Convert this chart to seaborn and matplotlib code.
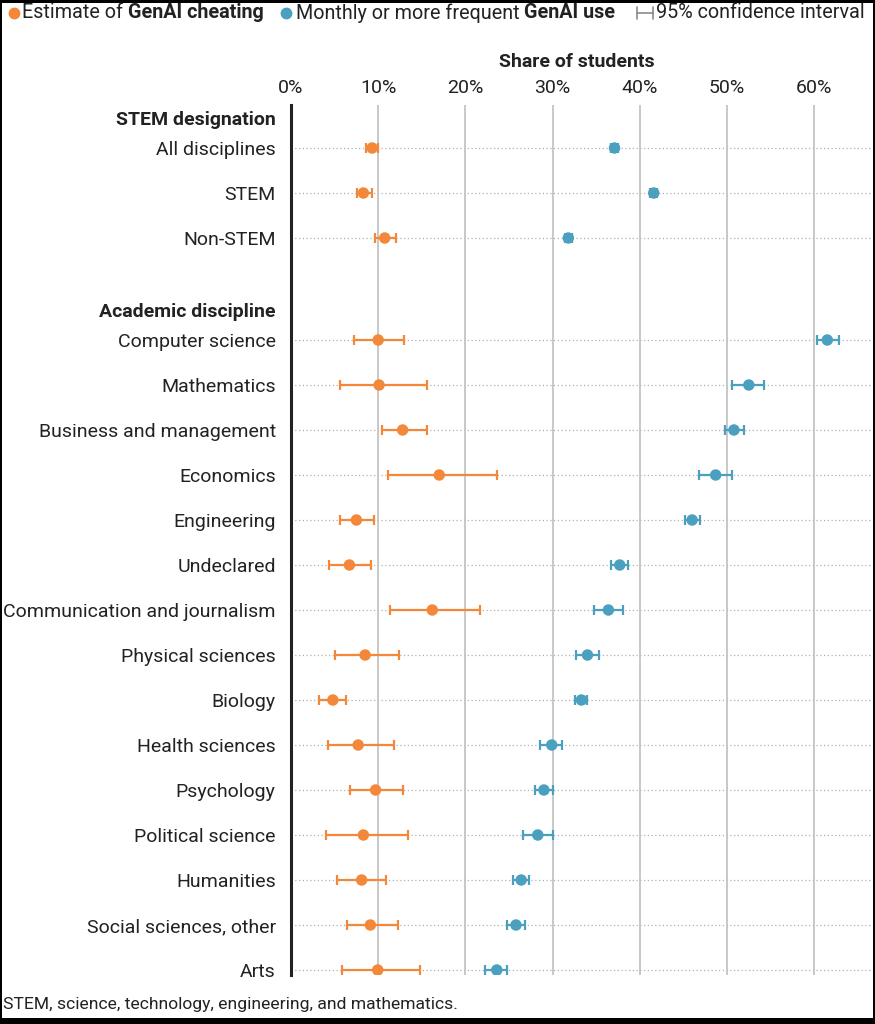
import numpy as np
import pandas as pd
import matplotlib
matplotlib.use("Agg")
import matplotlib.pyplot as plt
import seaborn as sns
from matplotlib.patches import Rectangle

# ---------------------------------------------------------
# data (% of students)
# ---------------------------------------------------------
stem_groups = ["All disciplines", "STEM", "Non-STEM"]
stem_cheat = [9.3, 8.3, 10.75]
stem_cheat_lo = [8.65, 7.55, 9.6]
stem_cheat_hi = [9.95, 9.25, 12.0]
stem_use = [37.1, 41.6, 31.8]
stem_use_lo = [36.7, 41.2, 31.4]
stem_use_hi = [37.5, 42.0, 32.2]

disciplines = [
    "Computer science", "Mathematics", "Business and management", "Economics",
    "Engineering", "Undeclared", "Communication and journalism",
    "Physical sciences", "Biology", "Health sciences", "Psychology",
    "Political science", "Humanities", "Social sciences, other", "Arts",
]
disc_cheat = [10.0, 10.1, 12.8, 17.0, 7.5, 6.7, 16.2, 8.5, 4.8, 7.7, 9.7, 8.3, 8.1, 9.1, 9.95]
disc_cheat_lo = [7.2, 5.6, 10.4, 11.1, 5.6, 4.4, 11.4, 5.0, 3.2, 4.3, 6.8, 4.0, 5.3, 6.4, 5.8]
disc_cheat_hi = [13.0, 15.6, 15.6, 23.6, 9.5, 9.2, 21.7, 12.4, 6.3, 11.8, 12.9, 13.4, 10.9, 12.3, 14.75]
disc_use = [61.5, 52.5, 50.8, 48.7, 46.0, 37.7, 36.4, 34.0, 33.3, 29.9, 29.0, 28.3, 26.4, 25.8, 23.6]
disc_use_lo = [60.3, 50.6, 49.8, 46.8, 45.2, 36.7, 34.7, 32.7, 32.6, 28.6, 28.0, 26.6, 25.5, 24.8, 22.3]
disc_use_hi = [62.8, 54.3, 51.9, 50.6, 46.9, 38.7, 38.1, 35.3, 34.0, 31.1, 30.1, 30.0, 27.3, 26.8, 24.8]

headers = ["STEM designation", "Academic discipline"]
x_ticks = [0, 10, 20, 30, 40, 50, 60]

ORANGE = "#F3883A"
BLUE = "#4BA0BF"
GRID = "#c4c4c4"
INK = "#222222"

sns.set_theme(style="white")
plt.rcParams["font.family"] = ["Roboto", "DejaVu Sans"]

# row positions: second group starts after a gap of ~2.27 rows
gap = 102 / 45
y_stem = np.arange(len(stem_groups), dtype=float)
y_disc = y_stem[-1] + gap + np.arange(len(disciplines))
y_head = [y_stem[0] - 0.667, y_disc[0] - 0.667]

df = pd.DataFrame({
    "label": stem_groups + disciplines,
    "y": np.concatenate([y_stem, y_disc]),
    "cheat": stem_cheat + disc_cheat,
    "cheat_lo": stem_cheat_lo + disc_cheat_lo,
    "cheat_hi": stem_cheat_hi + disc_cheat_hi,
    "use": stem_use + disc_use,
    "use_lo": stem_use_lo + disc_use_lo,
    "use_hi": stem_use_hi + disc_use_hi,
})

fig = plt.figure(figsize=(8.75, 10.24), dpi=100)
ax = fig.add_axes([291 / 875, 1 - 975 / 1024, (872 - 291) / 875, (975 - 105) / 1024])

# horizontal dotted row guides + vertical grid
for yy in df["y"]:
    ax.axhline(yy, color="#b0b0b0", lw=0.9, ls=(0, (1, 2)), zorder=0)
for xx in x_ticks[1:]:
    ax.axvline(xx, color=GRID, lw=1.3, zorder=0)

for col, lo, hi, color in [("cheat", "cheat_lo", "cheat_hi", ORANGE),
                           ("use", "use_lo", "use_hi", BLUE)]:
    ax.errorbar(df[col], df["y"],
                xerr=[df[col] - df[lo], df[hi] - df[col]],
                fmt="none", ecolor=color, elinewidth=1.6, capsize=3.3, capthick=1.6, zorder=2)
    sns.scatterplot(data=df, x=col, y="y", ax=ax, color=color, s=68,
                    edgecolor="none", linewidth=0, zorder=3, legend=False)

ax.set_xlim(0, (872 - 291) / 8.72)
ax.set_ylim((975 - 148) / 45, (105 - 148) / 45)
ax.xaxis.tick_top()
ax.set_xticks(x_ticks)
ax.set_xticklabels([f"{t}%" for t in x_ticks], fontsize=14, color=INK)
ax.tick_params(axis="x", length=0, pad=6)
ax.set_xlabel("")
ax.set_ylabel("")

ytk = list(df["y"]) + y_head
ylab = list(df["label"]) + headers
ax.set_yticks(ytk)
ax.set_yticklabels(ylab, fontsize=14, color=INK)
for lab in ax.get_yticklabels()[-2:]:
    lab.set_fontweight("bold")
ax.tick_params(axis="y", length=0, pad=11)

for s in ["top", "right", "bottom"]:
    ax.spines[s].set_visible(False)
ax.spines["left"].set_color(INK)
ax.spines["left"].set_linewidth(2.2)

fig.text(577 / 875, 1 - 62 / 1024, "Share of students", ha="center", va="center",
         fontsize=14, fontweight="bold", color=INK)


# legend line at the top (mixed regular/bold text chained together)
def chain(prev, text, **kw):
    return plt.annotate(text, xy=(1, 0.5), xycoords=prev, va="center", ha="left",
                        annotation_clip=False, fontsize=14.2, color=INK, **kw)


ly = 1 - 13 / 1024
fig.add_artist(plt.Line2D([14 / 875], [ly], marker="o", ms=7.5, color=ORANGE, ls="none"))
t0 = fig.text(22 / 875, ly, "Estimate of ", ha="left", va="center", fontsize=14.2, color=INK)
t1 = chain(t0, "GenAI cheating", fontweight="bold")
fig.canvas.draw()
bb = t1.get_window_extent()
mx = (bb.x1 + 22) / 875
fig.add_artist(plt.Line2D([mx], [ly], marker="o", ms=7.5, color=BLUE, ls="none"))
t2 = fig.text(mx + 10 / 875, ly, "Monthly or more frequent ", ha="left", va="center",
              fontsize=14.2, color=INK)
t3 = chain(t2, "GenAI use", fontweight="bold")
fig.canvas.draw()
bb = t3.get_window_extent()
cx0 = (bb.x1 + 22) / 875
cx1 = cx0 + 16 / 875
fig.add_artist(plt.Line2D([cx0, cx1], [ly, ly], color="#8a8a8a", lw=1.2))
fig.add_artist(plt.Line2D([cx0, cx0], [ly - 6 / 1024, ly + 6 / 1024], color="#8a8a8a", lw=1.2))
fig.add_artist(plt.Line2D([cx1, cx1], [ly - 6 / 1024, ly + 6 / 1024], color="#8a8a8a", lw=1.2))
fig.text(cx1 + 3 / 875, ly, "95% confidence interval", ha="left", va="center",
         fontsize=14.2, color=INK)

fig.text(3 / 875, 1 - 1005 / 1024, "STEM, science, technology, engineering, and mathematics.",
         ha="left", va="center", fontsize=12.6, color=INK)

# screenshot frame
for r in [(0, 1 - 3 / 1024, 1, 3 / 1024), (0, 0, 1, 6 / 1024),
          (0, 0, 2 / 875, 1), (1 - 2 / 875, 0, 2 / 875, 1)]:
    fig.add_artist(Rectangle(r[:2], r[2], r[3], transform=fig.transFigure,
                             color="black", lw=0))

fig.savefig("out.png", dpi=100)
